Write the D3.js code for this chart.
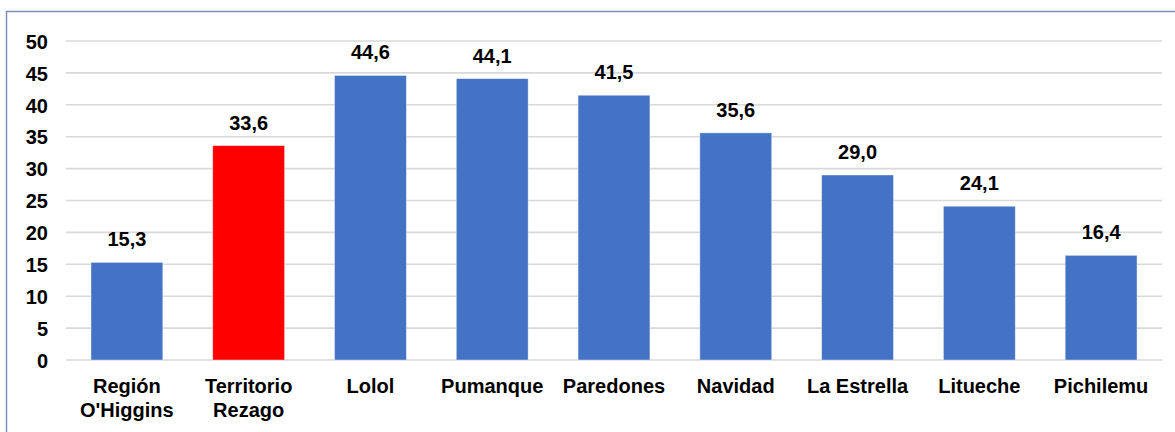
<!DOCTYPE html>
<html>
<head>
  <meta charset="utf-8">
  <title>Rezago</title>
  <script src="https://d3js.org/d3.v7.min.js"></script>
<style type="text/css">
body {
  margin: 0;
  background: #fff;
  font-family: "Liberation Sans", Arial, sans-serif;
}
.axis text {
  font-size: 20px;
  font-weight: bold;
  fill: #000;
}
.grid line {
  stroke: #d9d9d9;
  stroke-width: 1.6;
}
.label {
  font-size: 20px;
  font-weight: bold;
  fill: #000;
}
</style>
</head>
<body>
<svg width="1175" height="432"></svg>
<script type="text/javascript">

let categories = [["Región", "O'Higgins"], ["Territorio", "Rezago"], ["Lolol"], ["Pumanque"], ["Paredones"], ["Navidad"], ["La Estrella"], ["Litueche"], ["Pichilemu"]];
let values = [15.3, 33.6, 44.6, 44.1, 41.5, 35.6, 29.0, 24.1, 16.4];
let barColors = ["#4472c4", "#ff0000", "#4472c4", "#4472c4", "#4472c4", "#4472c4", "#4472c4", "#4472c4", "#4472c4"];
let yTicks = [0, 5, 10, 15, 20, 25, 30, 35, 40, 45, 50];

let svg = d3.select('svg');

// frame
svg.append('rect')
  .attr('x', 6.5).attr('y', 11.5)
  .attr('width', 1180).attr('height', 430)
  .attr('fill', 'none')
  .attr('stroke', '#7c8fb6')
  .attr('stroke-width', 1.5);

let plotLeft = 66, plotRight = 1162, plotTop = 41, plotBottom = 360;

let x = d3.scaleBand()
  .domain(d3.range(categories.length))
  .range([plotLeft, plotRight])
  .paddingInner(0.41)
  .paddingOuter(0.205);

let y = d3.scaleLinear()
  .domain([0, 50])
  .range([plotBottom, plotTop]);

// gridlines
svg.append('g')
  .attr('class', 'grid')
  .selectAll('line')
  .data(yTicks)
  .enter()
  .append('line')
  .attr('x1', plotLeft).attr('x2', plotRight)
  .attr('y1', d => y(d)).attr('y2', d => y(d));

// y axis labels
let yAxis = svg.append('g')
  .attr('class', 'axis')
  .attr('transform', 'translate(' + 48 + ',0)')
  .call(d3.axisLeft(y).tickValues(yTicks).tickSize(0).tickPadding(0));
yAxis.select('.domain').remove();
yAxis.selectAll('text').attr('dy', '0.36em').style('font-family', '"Liberation Sans", Arial, sans-serif');

// bars
svg.append('g')
  .selectAll('rect')
  .data(values)
  .enter()
  .append('rect')
  .attr('x', (d, i) => x(i))
  .attr('y', d => y(d))
  .attr('width', x.bandwidth())
  .attr('height', d => y(0) - y(d))
  .attr('fill', (d, i) => barColors[i])
  .attr('stroke', '#ffffff')
  .attr('stroke-opacity', 0.5)
  .attr('stroke-width', 0.8);

// value labels
svg.append('g')
  .selectAll('text')
  .data(values)
  .enter()
  .append('text')
  .attr('class', 'label')
  .attr('x', (d, i) => x(i) + x.bandwidth() / 2)
  .attr('y', d => y(d) - 16)
  .attr('text-anchor', 'middle')
  .text(d => d.toFixed(1).replace('.', ','));

// category labels
let cat = svg.append('g')
  .selectAll('text')
  .data(categories)
  .enter()
  .append('text')
  .attr('class', 'label')
  .attr('text-anchor', 'middle')
  .attr('x', (d, i) => x(i) + x.bandwidth() / 2)
  .attr('y', 393);

cat.selectAll('tspan')
  .data(d => d)
  .enter()
  .append('tspan')
  .attr('x', function() { return d3.select(this.parentNode).attr('x'); })
  .attr('dy', (d, i) => i === 0 ? 0 : 24)
  .text(d => d);

</script>
</body>
</html>
